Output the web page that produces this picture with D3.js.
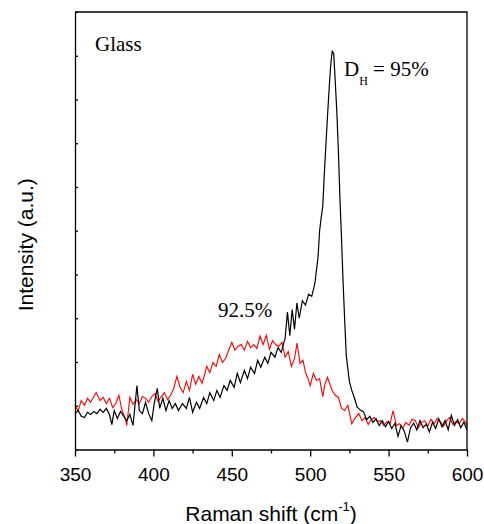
<!DOCTYPE html>
<html>
<head>
<meta charset="utf-8">
<script src="https://cdn.jsdelivr.net/npm/d3@7"></script>
<style>
  body { margin: 0; background: #fff; }
  .axis path, .axis line { stroke: #000; stroke-width: 1.3; }
  .axis text { font-family: "Liberation Sans", Arial, sans-serif; font-size: 19px; fill: #000; }
</style>
</head>
<body>
<div id="chart"></div>
<script>
// x range and tick labels
var shiftMin = 350, shiftMax = 600
var majorTicks = [350, 400, 450, 500, 550, 600]
var minorTicks = [375, 425, 475, 525, 575]
var intensityTicks = [0, 1, 2, 3, 4, 5, 6, 7, 8, 9, 10]

// D_H = 95% (black) spectrum
var blackShift = [350, 352, 354, 356, 358, 360, 362, 364, 366, 368, 370, 372, 373.5, 375, 377, 379, 381, 383, 385, 387,
    389.5, 391, 393, 395, 397, 399, 400.5, 402.5, 404, 406, 408, 410, 412, 414, 416, 418.5, 421, 423, 425, 427.5,
    429.5, 432, 434, 436, 438.5, 440.5, 442.5, 445, 447, 449, 451.5, 453.5, 455.5, 458, 460, 462, 464.5, 466.5, 468.5, 471,
    473, 475, 477.5, 479.5, 481.5, 484, 485.5, 487, 488.5, 490, 491.5, 493, 495, 497, 499, 501, 503, 505, 506, 507,
    508, 509, 510, 511, 512, 513, 514, 515, 516, 517, 518, 519, 520, 521, 522, 523, 524, 525, 526.5, 528,
    530, 532, 534, 536, 538, 540, 542, 544, 546, 548, 550, 552, 554, 556, 558, 560, 562, 564, 566, 568,
    570, 572, 574, 576, 578, 580, 582, 584, 586, 588, 590, 592, 594, 596, 598, 600]
var blackIntensity = [0.82, 0.89, 0.76, 0.73, 0.85, 0.80, 0.87, 0.82, 0.92, 0.85, 0.94, 0.80, 0.57, 0.89, 0.71, 0.87, 0.76, 0.66, 0.80, 0.55,
    1.46, 0.89, 0.82, 1.08, 0.82, 0.66, 1.05, 1.40, 0.94, 1.17, 0.89, 1.12, 0.94, 1.05, 0.89, 1.05, 0.94, 1.19, 0.85, 1.08,
    0.94, 1.19, 1.05, 1.30, 1.12, 1.35, 1.19, 1.46, 1.35, 1.58, 1.42, 1.74, 1.53, 1.81, 1.62, 1.88, 1.74, 2.04, 1.88, 2.11,
    1.97, 2.22, 2.11, 2.33, 2.22, 2.54, 3.14, 2.60, 3.20, 2.75, 3.35, 3.00, 3.40, 3.30, 3.55, 3.50, 3.80, 4.40, 5.00, 5.30,
    5.55, 6.30, 6.95, 7.60, 8.20, 8.75, 9.10, 9.05, 8.40, 7.70, 6.80, 5.70, 4.80, 3.80, 2.95, 2.15, 1.85, 1.55, 1.35, 1.20,
    0.97, 0.90, 0.86, 0.68, 0.76, 0.62, 0.70, 0.55, 0.66, 0.52, 0.64, 0.48, 0.60, 0.30, 0.55, 0.42, 0.17, 0.50, 0.60, 0.45,
    0.66, 0.50, 0.58, 0.40, 0.62, 0.48, 0.70, 0.52, 0.66, 0.45, 0.78, 0.55, 0.68, 0.50, 0.62, 0.45]

// 92.5% (red) spectrum
var redShift = [350, 352, 354, 356, 358, 360, 362, 363.5, 366, 368, 370, 372, 374, 376, 378, 380, 382, 383, 385, 387,
    389, 391, 393, 395, 397, 399, 401, 403, 405, 407, 409, 411, 413, 415, 417, 419, 421, 423, 425, 427,
    429, 431, 433, 434, 436, 438, 440, 442, 444, 446, 448, 450, 452, 454, 456, 458, 460, 462, 464, 466,
    468, 470, 472, 474, 476, 478, 480, 482, 484, 486, 488, 490, 491.6, 493.5, 495.4, 497, 499, 500, 502, 504,
    506, 508, 509.5, 511, 514, 516, 518, 520, 522, 524, 526.5, 528.5, 531, 533, 535, 537, 539, 541, 543, 545,
    547, 549, 551, 552.8, 555, 557, 559, 561, 563, 565, 567, 569, 571, 573, 575, 577, 579, 581, 583, 585,
    587, 589, 591, 593, 595, 597, 599, 600]
var redIntensity = [1.01, 0.89, 1.12, 1.01, 1.17, 1.08, 1.21, 1.30, 1.12, 1.19, 1.05, 1.17, 0.96, 1.05, 1.24, 0.89, 0.71, 0.55, 1.19, 1.03,
    1.14, 1.05, 1.21, 1.17, 1.08, 1.21, 1.28, 1.10, 1.21, 1.30, 1.14, 1.24, 1.40, 1.67, 1.42, 1.30, 1.56, 1.35, 1.72, 1.49,
    1.67, 1.51, 1.76, 1.90, 1.76, 1.99, 1.90, 2.17, 1.99, 2.08, 2.27, 2.45, 2.27, 2.36, 2.40, 2.27, 2.47, 2.33, 2.40, 2.31,
    2.59, 2.40, 2.61, 2.29, 2.49, 2.40, 2.36, 2.45, 2.11, 2.24, 1.90, 2.08, 2.43, 1.97, 2.04, 1.76, 1.58, 1.46, 1.74, 1.58,
    1.62, 1.21, 1.51, 1.65, 1.35, 1.24, 1.19, 0.94, 0.89, 1.01, 0.59, 0.71, 0.82, 0.66, 0.73, 0.57, 0.69, 0.73, 0.64, 0.66,
    0.55, 0.64, 0.59, 0.89, 0.55, 0.59, 0.48, 0.62, 0.55, 0.69, 0.66, 0.50, 0.62, 0.66, 0.53, 0.69, 0.59, 0.71, 0.64, 0.53,
    0.66, 0.73, 0.57, 0.64, 0.59, 0.71, 0.62, 0.55]

var w = 484, h = 524
//frame edges (window.top is read-only, so no plain "top")
var frameLeft = 75, frameRight = 467, frameTop = 12, frameBottom = 449.5

var svg = d3.select("#chart").append("svg")
    .attr("width", w)
    .attr("height", h)

var x = d3.scaleLinear().domain([shiftMin, shiftMax]).range([frameLeft, frameRight])
var y = d3.scaleLinear().domain([0, 10]).range([frameBottom, frameTop])

//spectra first so the frame sits on top
var line = d3.line()
    .x(function (d) { return x(d[0]) })
    .y(function (d) { return y(d[1]) })

var redPts = d3.zip(redShift, redIntensity)
var blackPts = d3.zip(blackShift, blackIntensity)

svg.append("path")
    .datum(redPts)
    .attr("d", line)
    .attr("fill", "none")
    .attr("stroke", "#ff0000")
    .attr("stroke-width", 1.1)

svg.append("path")
    .datum(blackPts)
    .attr("d", line)
    .attr("fill", "none")
    .attr("stroke", "#000")
    .attr("stroke-width", 1.2)

// bottom axis, major + minor ticks
svg.append("g")
    .attr("class", "axis")
    .attr("transform", "translate(0," + frameBottom + ")")
    .call(d3.axisBottom(x).tickValues(minorTicks).tickSize(4).tickFormat(""))
    .select(".domain").remove()

svg.append("g")
    .attr("class", "axis")
    .attr("transform", "translate(0," + frameBottom + ")")
    .call(d3.axisBottom(x).tickValues(majorTicks).tickSize(7).tickPadding(11).tickSizeOuter(0))

// left axis, inward ticks, no labels
svg.append("g")
    .attr("class", "axis")
    .attr("transform", "translate(" + frameLeft + ",0)")
    .call(d3.axisLeft(y).tickValues(intensityTicks).tickSize(-3).tickFormat("").tickSizeOuter(0))

// top + right frame
svg.append("path")
    .attr("d", "M" + frameLeft + "," + frameTop + "H" + frameRight + "V" + frameBottom)
    .attr("fill", "none")
    .attr("stroke", "#000")
    .attr("stroke-width", 1.3)

// axis titles
var xt = svg.append("text")
    .attr("x", (frameLeft + frameRight) / 2)
    .attr("y", 521)
    .attr("text-anchor", "middle")
    .style("font-family", "Liberation Sans, Arial, sans-serif")
    .style("font-size", "21px")
xt.append("tspan").text("Raman shift (cm")
xt.append("tspan").attr("dy", -10).style("font-size", "13px").text("-1")
xt.append("tspan").attr("dy", 10).text(")")

svg.append("text")
    .attr("transform", "translate(33," + ((frameTop + frameBottom) / 2 + 14) + ") rotate(-90)")
    .attr("text-anchor", "middle")
    .style("font-family", "Liberation Sans, Arial, sans-serif")
    .style("font-size", "21px")
    .text("Intensity (a.u.)")

// annotations
var serif = "Liberation Serif, Times New Roman, serif"
svg.append("text")
    .attr("x", 95).attr("y", 51)
    .style("font-family", serif).style("font-size", "21px")
    .text("Glass")

var dh = svg.append("text")
    .attr("x", 344).attr("y", 76)
    .style("font-family", serif).style("font-size", "21px")
dh.append("tspan").text("D")
dh.append("tspan").attr("dy", 9).style("font-size", "12px").text("H")
dh.append("tspan").attr("dy", -9).text(" = 95%")

svg.append("text")
    .attr("x", 218).attr("y", 317)
    .style("font-family", serif).style("font-size", "21px")
    .text("92.5%")
</script>
</body>
</html>
